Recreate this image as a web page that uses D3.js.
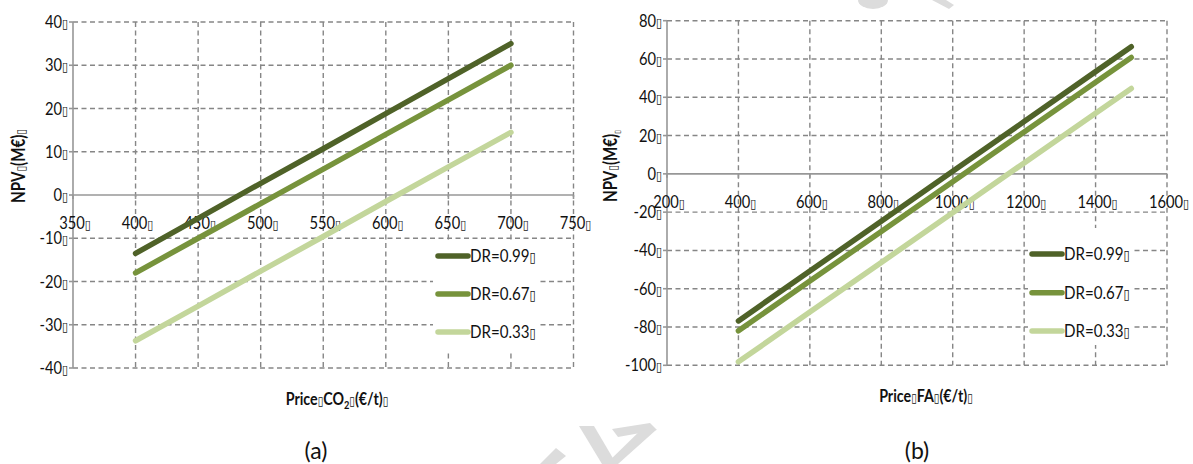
<!DOCTYPE html>
<html>
<head>
<meta charset="utf-8">
<script src="https://cdn.jsdelivr.net/npm/d3@7"></script>
<style>
  html, body { margin: 0; padding: 0; background: #fff; }
  svg { display: block; }
  text { font-family: Lato, "Open Sans", sans-serif; fill: #111; }
  .box { font-family: "DejaVu Sans", sans-serif; }
</style>
</head>
<body>
<script>
// ---- data: panel (a), NPV vs CO2 price ----
const co2Price = [400, 450, 500, 550, 600, 650, 700];
const npvCo2Dr099 = [-13.5, -5.4, 2.7, 10.7, 18.8, 26.9, 35.0];
const npvCo2Dr067 = [-18.0, -10.0, -2.0, 6.0, 14.0, 22.0, 30.0];
const npvCo2Dr033 = [-33.7, -25.7, -17.6, -9.6, -1.5, 6.5, 14.5];
const co2XTicks = [350, 400, 450, 500, 550, 600, 650, 700, 750];
const co2YTicks = [-40, -30, -20, -10, 0, 10, 20, 30, 40];

// ---- data: panel (b), NPV vs FA price ----
const faPrice = [400, 600, 800, 1000, 1200, 1400, 1500];
const npvFaDr099 = [-76.8, -50.8, -24.7, 1.3, 27.3, 53.4, 66.4];
const npvFaDr067 = [-82.0, -56.0, -30.1, -4.1, 21.9, 47.8, 60.8];
const npvFaDr033 = [-98.2, -72.2, -46.3, -20.3, 5.7, 31.6, 44.6];
const faXTicks = [200, 400, 600, 800, 1000, 1200, 1400, 1600];
const faYTicks = [-100, -80, -60, -40, -20, 0, 20, 40, 60, 80];

const seriesNames = ["DR=0.99", "DR=0.67", "DR=0.33"];
const seriesColors = ["#4f6228", "#77933c", "#c3d69b"];
const BOX = "\u25AF"; // trailing box glyph after each label
const SQUEEZE = 0.84;  // horizontal text compression

const W = 1193, H = 464;
const svg = d3.select("body").append("svg").attr("width", W).attr("height", H);

// condensed text placed at (x, y)
function ctext(parent, x, y, anchor, rotate) {
  return parent.append("text")
    .attr("text-anchor", anchor || "start")
    .attr("transform", `translate(${x},${y})` + (rotate ? ` rotate(${rotate})` : "") + ` scale(${SQUEEZE},1)`);
}
function addBox(t, size, dy) {
  const s = t.append("tspan").attr("class", "box").attr("font-size", size || 14).attr("font-weight", "normal").text(BOX);
  if (dy) s.attr("dy", dy);
  return s;
}

// faint diagonal watermark strokes in the background
const wm = svg.append("g").attr("fill", "#dcdcdc");
[
  [[540, 464], [556, 448], [566, 456], [556, 464]],
  [[579, 426], [594, 426], [614, 460], [608, 464], [602, 464]],
  [[612, 429], [650, 423], [657, 430], [618, 437]],
  [[646, 425], [656, 430], [618, 464], [606, 464]],
  [[932, 0], [946, 0], [954, 5], [949, 9]]
].forEach(p => wm.append("path").attr("d", d3.line()(p) + "Z"));
wm.append("path").attr("d", "M858,0 A15,9 0 0 0 888,0 Z");

function panel(cfg) {
  const g = svg.append("g");
  const x = d3.scaleLinear().domain(cfg.xDomain).range(cfg.xRange);
  const y = d3.scaleLinear().domain(cfg.yDomain).range(cfg.yRange);
  const [x0, x1] = cfg.xRange;
  const [yb, yt] = cfg.yRange;

  // dashed grid
  const grid = g.append("g").attr("stroke", "#868686").attr("stroke-width", 1.4)
    .attr("stroke-dasharray", "5,3.5").attr("fill", "none");
  cfg.xTicks.slice(1).forEach(v => {
    grid.append("line").attr("x1", x(v)).attr("x2", x(v)).attr("y1", yt).attr("y2", yb);
  });
  cfg.yTicks.filter(v => v !== 0).forEach(v => {
    grid.append("line").attr("x1", x0).attr("x2", x1).attr("y1", y(v)).attr("y2", y(v));
  });

  // legend panel background hides the grid beneath it
  g.append("rect").attr("x", cfg.legend.box[0]).attr("y", cfg.legend.box[1])
    .attr("width", cfg.legend.box[2]).attr("height", cfg.legend.box[3]).attr("fill", "#fff");

  // axes: vertical axis at left edge, horizontal axis through zero
  const axis = g.append("g").attr("stroke", "#979797").attr("stroke-width", 1.6);
  axis.append("line").attr("x1", x0).attr("x2", x0).attr("y1", yt).attr("y2", yb);
  axis.append("line").attr("x1", x0).attr("x2", x1).attr("y1", y(0)).attr("y2", y(0));
  cfg.xTicks.forEach(v => {
    axis.append("line").attr("x1", x(v)).attr("x2", x(v)).attr("y1", y(0)).attr("y2", y(0) + 4);
  });
  cfg.yTicks.forEach(v => {
    axis.append("line").attr("x1", x0 - 4).attr("x2", x0).attr("y1", y(v)).attr("y2", y(v));
  });

  // tick labels
  const lab = g.append("g").attr("font-size", 17.5);
  cfg.xTicks.forEach(v => {
    const t = ctext(lab, x(v) + 2, y(0) + 34, "middle").text(v);
    addBox(t, 13);
  });
  cfg.yTicks.forEach(v => {
    const t = ctext(lab, x0 - 5, y(v) + 6, "end").text(v);
    addBox(t, 13);
  });

  // series lines
  const line = d3.line().x(d => x(d[0])).y(d => y(d[1]));
  cfg.series.forEach((vals, i) => {
    g.append("path").datum(cfg.xs.map((xv, k) => [xv, vals[k]]))
      .attr("d", line).attr("fill", "none").attr("stroke", seriesColors[i])
      .attr("stroke-width", 5.5).attr("stroke-linecap", "round");
  });

  // legend
  const lg = g.append("g").attr("font-size", 18);
  seriesNames.forEach((n, i) => {
    const ly = cfg.legend.ys[i];
    lg.append("line").attr("x1", cfg.legend.x).attr("x2", cfg.legend.x + 30)
      .attr("y1", ly).attr("y2", ly).attr("stroke", seriesColors[i])
      .attr("stroke-width", 5.5).attr("stroke-linecap", "round");
    const t = ctext(lg, cfg.legend.x + 32, ly + 6, "start").text(n);
    addBox(t);
  });

  // axis titles
  const yT = ctext(g, cfg.yTitlePos[0], cfg.yTitlePos[1], "middle", -90)
    .attr("font-weight", "bold").attr("font-size", 18);
  yT.append("tspan").text("NPV");
  addBox(yT, 12);
  yT.append("tspan").text("(M€)");
  addBox(yT, cfg.yTitleEndSize, cfg.yTitleEndSize < 10 ? 3 : 0);

  const xT = ctext(g, cfg.xTitlePos[0], cfg.xTitlePos[1], "middle")
    .attr("font-weight", "bold").attr("font-size", 17);
  cfg.xTitle(xT);

  // caption
  g.append("text").attr("x", cfg.caption[0]).attr("y", cfg.caption[1])
    .attr("text-anchor", "middle").attr("font-size", 23).text(cfg.caption[2]);
}

panel({
  xDomain: [350, 750], xRange: [73, 573.5],
  yDomain: [-40, 40], yRange: [368, 22],
  xTicks: co2XTicks, yTicks: co2YTicks,
  xs: co2Price, series: [npvCo2Dr099, npvCo2Dr067, npvCo2Dr033],
  legend: { box: [433, 240, 105, 110], x: 438, ys: [256, 294, 332] },
  yTitlePos: [25, 166], yTitleEndSize: 12,
  xTitlePos: [337, 405],
  xTitle: t => {
    t.append("tspan").text("Price");
    addBox(t, 12);
    t.append("tspan").text("CO");
    t.append("tspan").attr("font-size", 11).attr("dy", 4).text("2");
    addBox(t, 12, -4);
    t.append("tspan").text("(€/t)");
    addBox(t, 12);
  },
  caption: [316, 459, "(a)"]
});

panel({
  xDomain: [200, 1600], xRange: [667, 1167],
  yDomain: [-100, 80], yRange: [365.3, 20.7],
  xTicks: faXTicks, yTicks: faYTicks,
  xs: faPrice, series: [npvFaDr099, npvFaDr067, npvFaDr033],
  legend: { box: [1028, 228, 104, 117], x: 1032, ys: [254, 292.7, 331] },
  yTitlePos: [617, 166], yTitleEndSize: 8,
  xTitlePos: [926, 402],
  xTitle: t => {
    t.append("tspan").text("Price");
    addBox(t, 12);
    t.append("tspan").text("FA");
    addBox(t, 12);
    t.append("tspan").text("(€/t)");
    addBox(t, 12);
  },
  caption: [917, 459, "(b)"]
});
</script>
</body>
</html>
